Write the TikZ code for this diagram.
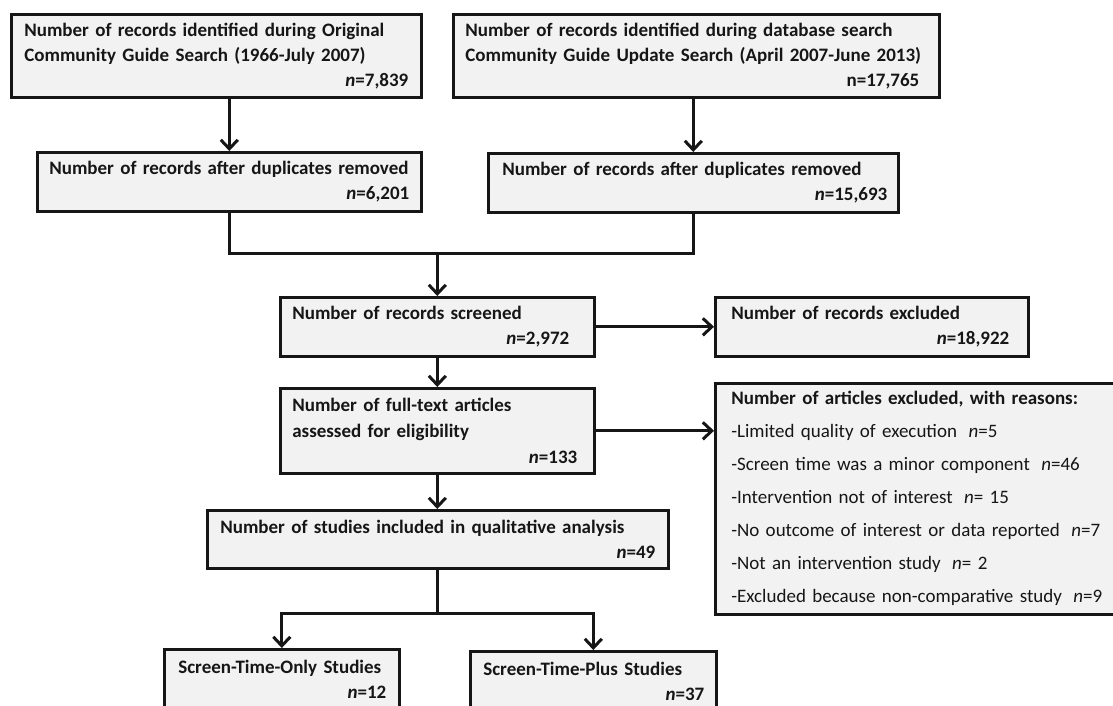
\documentclass[tikz,border=0pt]{standalone}
\usepackage{fontspec}
\setmainfont{Carlito}
\usetikzlibrary{arrows.meta}
\definecolor{boxfill}{RGB}{242,242,242}
\definecolor{ink}{RGB}{22,22,22}

\begin{document}
\begin{tikzpicture}[x=1pt,y=-1pt,
		box/.style={draw=ink, line width=2.6pt, fill=boxfill, anchor=north west,
			inner xsep=12pt, inner ysep=0pt, align=left, text=ink,
			font=\fontsize{19}{25}\selectfont\bfseries},
		conn/.style={draw=ink, line width=3pt},
		arr/.style={conn, -{Straight Barb[length=9pt,width=17pt]}}]
		\useasboundingbox (0,0) rectangle (1113,705);
		\clip (0,0) rectangle (1113,705);

		% searches
		\node[box, minimum width=410pt, minimum height=83pt, inner xsep=13pt, text width=384pt] (orig) at (10,13)
			{Number of records identified during Original\\Community Guide Search (1966-July 2007)\\\hfill\textit{n}=7,839};
		\node[box, minimum width=486pt, minimum height=83pt, text width=462pt] (upd) at (452,13)
			{Number of records identified during database search\\Community Guide Update Search (April 2007-June 2013)\\\hfill n=17,765\hspace*{8pt}};

		% duplicates removed
		\node[box, minimum width=384pt, minimum height=59pt, text width=360pt] (origdup) at (36,151)
			{Number of records after duplicates removed\\\hfill\textit{n}=6,201};
		\node[box, minimum width=410pt, minimum height=59pt, inner xsep=14pt, text width=382pt] (upddup) at (487,152)
			{Number of records after duplicates removed\\\hfill\textit{n}=15,693\hspace*{-3pt}};

		% screening
		\node[box, minimum width=314pt, minimum height=59pt, text width=290pt] (screen) at (279,296)
			{Number of records screened\\\hfill\textit{n}=2,972\hspace*{13pt}};
		\node[box, minimum width=313pt, minimum height=59pt, inner xsep=16pt, text width=281pt] (recexcl) at (714,296)
			{Number of records excluded\\\hfill\textit{n}=18,922\hspace*{3pt}};

		% eligibility
		\node[box, minimum width=314pt, minimum height=85pt, text width=290pt,
			font=\fontsize{19}{26}\selectfont\bfseries] (fulltext) at (279,387)
			{Number of full-text articles\\assessed for eligibility\\\hfill\textit{n}=133\hspace*{5pt}};
		\node[box, minimum width=460pt, minimum height=231pt, inner xsep=16pt, text width=428pt,
			font=\fontsize{19}{33}\selectfont] (reasons) at (714,382)
			{\textbf{Number of articles excluded, with reasons:}\\
			-Limited quality of execution\hspace{0.6em}\textit{n}=5\\
			-Screen time was a minor component\hspace{0.6em}\textit{n}=46\\
			-Intervention not of interest\hspace{0.6em}\textit{n}= 15\\
			-No outcome of interest or data reported\hspace{0.6em}\textit{n}=7\\
			-Not an intervention study\hspace{0.6em}\textit{n}= 2\\
			-Excluded because non-comparative study\hspace{0.6em}\textit{n}=9};

		% included
		\node[box, minimum width=461pt, minimum height=58pt, inner xsep=13pt, text width=435pt] (qual) at (206,509)
			{Number of studies included in qualitative analysis\\\hfill\textit{n}=49};
		\node[box, minimum width=235pt, minimum height=60pt, inner xsep=14pt, text width=207pt] (stonly) at (163,648)
			{Screen-Time-Only Studies\\\hfill\textit{n}=12\hspace*{-1pt}};
		\node[box, minimum width=246pt, minimum height=60pt, inner xsep=13pt, text width=220pt] (stplus) at (469,650)
			{Screen-Time-Plus Studies\\\hfill\textit{n}=37\hspace*{-1pt}};

		% connectors
		\draw[arr] (orig.south -| origdup.north) -- (origdup.north);
		\draw[arr] (upd.south -| upddup.north) -- (upddup.north);
		\path (screen.north) ++(0,-43) coordinate (join);
		\draw[conn] (origdup.south) |- (join) -| (upddup.south);
		\draw[arr] (join) -- (screen.north);
		\draw[arr] (screen.east) -- (recexcl.west);
		\draw[arr] (screen.south) -- (fulltext.north);
		\draw[arr] (fulltext.east) -- (fulltext.east -| reasons.west);
		\draw[arr] (fulltext.south) -- (fulltext.south |- qual.north);
		\path (qual.south) ++(0,44) coordinate (split);
		\draw[conn] (qual.south) -- (split);
		\draw[arr] (split) -| (stonly.north);
		\draw[arr] (split) -| (stplus.north);
	\end{tikzpicture}
\end{document}
